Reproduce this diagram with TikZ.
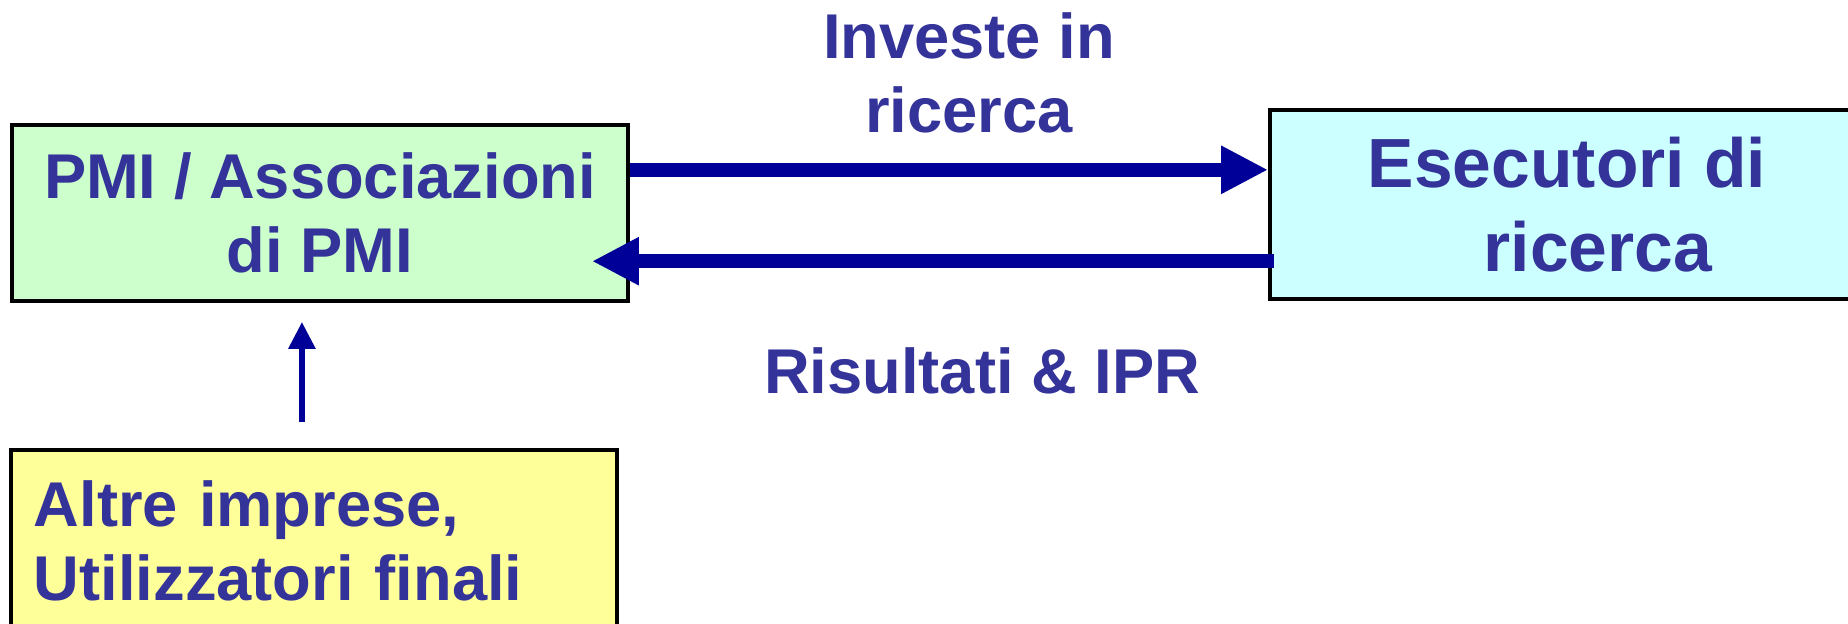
\documentclass[tikz,border=0pt]{standalone}
\usepackage{fontspec}
\setmainfont{Liberation Sans}
\usepackage{tikz}
\usetikzlibrary{
  arrows.meta,
  positioning,  % Function "of"
  calc,         % Calculations $...$
}
\definecolor{txtblue}{HTML}{333399}
\definecolor{arrblue}{HTML}{000099}
\definecolor{pmigreen}{HTML}{CCFFCC}
\definecolor{esecyan}{HTML}{CCFFFF}
\definecolor{altyellow}{HTML}{FFFF99}
\def\mybigfont{\fontsize{18pt}{21pt}\selectfont\bfseries}
\def\mybiggerfont{\fontsize{19.8pt}{23.8pt}\selectfont\bfseries}
\tikzset{
  font=\mybigfont,
  text=txtblue,
  my box/.style={
    draw=black,
    line width=1.1pt,
    inner sep=0mm,
    rectangle
  },
  pmi box/.style={
    my box,
    fill=pmigreen,
    minimum width=6.16cm,
    minimum height=1.76cm,
    align=center
  },
  ese box/.style={
    my box,
    fill=esecyan,
    font=\mybiggerfont,
    minimum width=6.56cm,
    minimum height=1.89cm,
    align=center
  },
  alt box/.style={
    my box,
    fill=altyellow,
    text width=5.60cm,
    inner xsep=0.23cm,
    inner ysep=0.31cm,
    align=left
  },
  lbl/.style={
    align=center,
    inner sep=0mm
  },
  big arrow/.style={
    draw=arrblue,
    line width=0.14cm,
    -{Triangle[length=0.47cm,width=0.45cm]}
  },
  small arrow/.style={
    draw=arrblue,
    line width=0.06cm,
    -{Triangle[length=0.27cm,width=0.26cm]}
  }
}
\begin{document}
\begin{tikzpicture}
\useasboundingbox (0,0) rectangle (18.48,6.24);
\node[pmi box] (pmi) at (3.20,4.11) {PMI / Associazioni\\di PMI};
\node[ese box] (ese) at (15.98,4.195) {Esecutori di\rule{0.62cm}{0pt}\\ricerca};
\node[alt box, anchor=north west] (alt) at (0.09,1.76)
  {Altre imprese,\\Utilizzatori finali};
\node[lbl] (inv) at (9.69,5.51) {Investe in\\ricerca};
\node[lbl, anchor=base] (ris) at (9.82,2.30) {Risultati \& IPR};
\draw[big arrow]
  ($(pmi.north east)!0.26!(pmi.south east)$) coordinate (a1) -- (a1 -| ese.west);
\draw[big arrow, shorten <=-0.06cm, shorten >=-0.38cm]
  ($(ese.north west)!0.794!(ese.south west)$) coordinate (a2) -- (a2 -| pmi.east);
\draw[small arrow, shorten <=0.26cm, shorten >=0.19cm]
  ([xshift=-1.2mm]alt.north) -- ([xshift=-1.2mm]alt.north |- pmi.south);
\end{tikzpicture}
\end{document}
